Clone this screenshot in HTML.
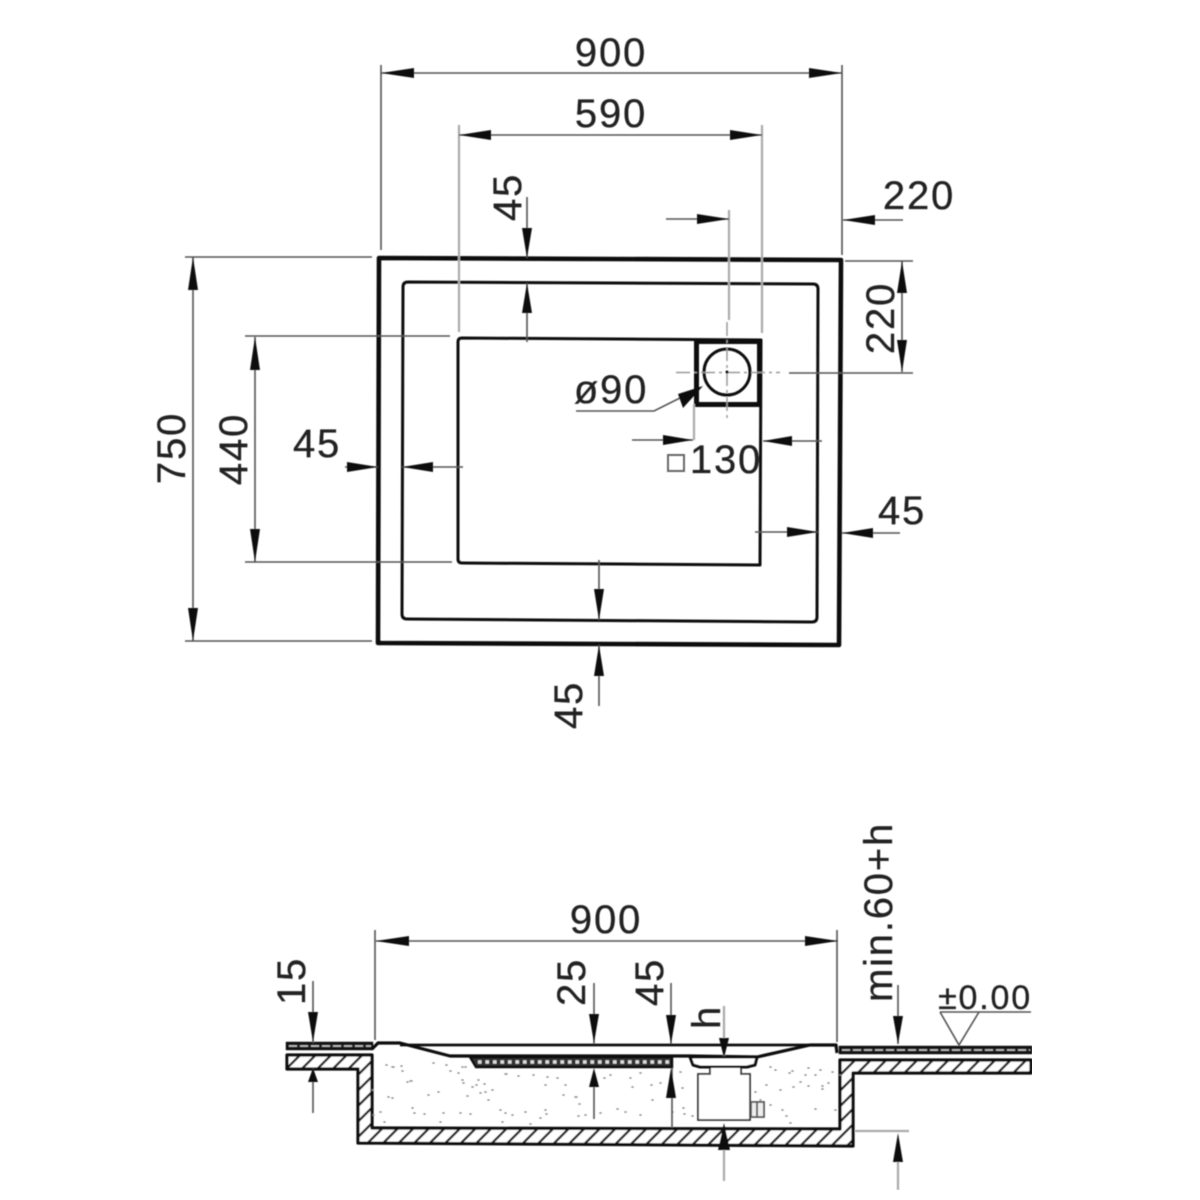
<!DOCTYPE html>
<html><head><meta charset="utf-8"><style>
html,body{margin:0;padding:0;background:#fff;width:1200px;height:1200px;overflow:hidden}
svg{display:block}
text{font-family:"Liberation Sans",sans-serif;font-size:40px;fill:#222;text-anchor:middle;letter-spacing:1.8px;stroke:#222;stroke-width:.3px}
.e{stroke:#555;stroke-width:1.6;fill:none}
.g{stroke:#aaa;stroke-width:2.2;fill:none}
.k{stroke:#111;fill:none}
.a{fill:#111;stroke:none}
</style></head><body>
<svg width="1200" height="1200" viewBox="0 0 1200 1200" xmlns="http://www.w3.org/2000/svg">
<defs>
<pattern id="h" width="11" height="11" patternUnits="userSpaceOnUse" patternTransform="rotate(45)">
<rect width="11" height="11" fill="#fff"/><rect width="2.4" height="11" fill="#222"/>
</pattern>
<filter id="b" x="0" y="0" width="100%" height="100%"><feGaussianBlur stdDeviation="0.6"/></filter>
</defs>
<g filter="url(#b)">
<!-- plan outlines -->
<path class="k" stroke-width="4.6" stroke-linejoin="round" d="M379 258L841 260L839 645L378 643Z"/>
<path class="k" stroke-width="3" stroke-linejoin="round" d="M408 282L813 284Q818 284 818 289L817 617Q817 622 812 622L407 619Q402 619 402 614L403 287Q403 282 408 282Z"/>
<path class="k" stroke-width="3" stroke-linejoin="round" d="M462 338L761 340L760 565L462 563Q458 563 458 559L458 342Q458 338 462 338Z"/>
<rect x="696.500" y="341.500" width="63" height="63" class="k" stroke-width="5"/>
<circle cx="727" cy="372" r="23" class="k" stroke-width="3"/>
<path stroke="#999" stroke-width="1.500" fill="none" stroke-dasharray="14 4 3 4" d="M676 372.500H780M727 322V418"/>
<path class="g" d="M729 210V320"/>
<circle cx="727" cy="372" r="1.500" class="a"/>
<path class="e" d="M789 373H913"/>

<!-- plan dimension lines -->
<path class="e" d="M381 65V250M842 65V255M381 73H842"/>
<path class="a" d="M381 73L414 68V78ZM842 73L809 68V78Z"/>
<path class="g" d="M459 125V332M762 125V333"/><path class="e" d="M459 135H762"/>
<path class="a" d="M459 135L491 130V140ZM762 135L730 130V140Z"/>
<path class="e" d="M527 197V258M527 283V342"/>
<path class="a" d="M527 258L522 228H532ZM527 283L522 313H532Z"/>
<path class="e" d="M666 219H729M843 220H903"/>
<path class="a" d="M729 219L697 214V224ZM843 220L875 215V225Z"/>
<path class="e" d="M845 261H913M902 261V372"/>
<path class="a" d="M902 261L897 293H907ZM902 372L897 340H907Z"/>
<path class="e" d="M185 257H372M185 641H372M193 257V641"/>
<path class="a" d="M193 257L188 290H198ZM193 641L188 608H198Z"/>
<path class="e" d="M245 336H450M245 562H452M255 337V562"/>
<path class="a" d="M255 337L250 370H260ZM255 562L250 529H260Z"/>
<path class="e" d="M345 467H378M402 467H463"/>
<path class="a" d="M378 467L347 462V472ZM402 467L433 462V472Z"/>
<path class="e" d="M842 533H900M755 532H818"/>
<path class="a" d="M842 533L873 528V538ZM818 532L787 527V537Z"/>
<path class="e" d="M599 560V620M599 645V706"/>
<path class="a" d="M599 620L594 589H604ZM599 645L594 676H604Z"/>
<path class="e" d="M576 411H654L700 388"/>
<path class="a" d="M703 386L678 394L683 408Z"/>
<path class="g" d="M694 404V440"/>
<path class="e" d="M632 440H693M763 441H822"/>
<path class="a" d="M693 440L663 435V445ZM763 441L792 436V446Z"/>
<rect x="668" y="455" width="16" height="16" fill="none" stroke="#666" stroke-width="2"/>

<!-- section: slab hatch -->
<path fill="url(#h)" stroke="#111" stroke-width="3.200" stroke-linejoin="round" d="M287 1055H372V1128L840 1129V1060H1031V1073H853V1146L358 1143V1069H287Z"/>
<!-- stipple -->
<path stroke="#888" stroke-width="1.600" stroke-linecap="round" fill="none" d="M386 1065h1M392 1067h2M401 1066h1M402 1071h1M433 1063h1M446 1065h1M450 1071h1M410 1081h2M407 1082h1M462 1067h1M465 1067h1M458 1073h1M463 1083h1M462 1080h1M472 1087h1M476 1085h1M484 1084h1M478 1080h1M488 1100h1M480 1093h1M485 1092h1M492 1090h1M438 1092h1M467 1096h1M428 1095h1M388 1097h1M392 1098h1M373 1115h1M380 1112h1M412 1108h1M414 1113h1M424 1114h1M443 1113h1M460 1113h1M470 1114h1M500 1110h1M505 1113h1M512 1115h1M525 1112h1M545 1110h1M546 1114h1M540 1118h1M565 1085h1M563 1095h1M575 1097h2M579 1104h1M585 1115h1M578 1116h1M600 1113h1M617 1109h1M625 1112h1M640 1115h1M652 1100h1M651 1085h1M630 1078h1M640 1073h1M505 1074h2M518 1076h1M533 1075h1M547 1077h1M557 1078h1M545 1085h1M604 1078h1M610 1075h1M632 1087h1M660 1083h1M682 1088h1M683 1108h1M672 1112h1M684 1114h1M692 1116h1M680 1072h1M775 1070h1M770 1067h1M789 1073h1M792 1071h1M808 1068h1M820 1070h1M805 1075h1M815 1075h1M800 1082h1M808 1086h1M822 1089h1M822 1086h1M793 1087h1M780 1090h1M766 1085h1M755 1092h1M760 1100h1M770 1105h1M782 1110h1M786 1116h1M790 1123h1M815 1109h1M835 1110h1M832 1072h1M828 1083h1M840 1075h1M384 1122h1M372 1090h1M440 1122h1M502 1122h1M530 1124h1"/>

<!-- section: tiles -->
<rect x="287" y="1043" width="85" height="6" fill="#222" stroke="#111" stroke-width="2.400"/>
<rect x="840" y="1047" width="191" height="6" fill="#222" stroke="#111" stroke-width="2.400"/>
<path stroke="#ccc" stroke-width="1.400" stroke-dasharray="8 3" d="M289 1046H371M842 1050H1030"/>

<!-- section: tray -->
<path class="k" stroke-width="2.800" d="M400 1045H837"/>
<path class="k" stroke-width="3.200" stroke-linejoin="round" d="M372 1049L378 1043H400L450 1056H690L757 1057L810 1045H836L837 1053"/>
<path fill="#333" stroke="#111" stroke-width="2.400" d="M470 1057H672V1067H476Z"/>
<path fill="none" stroke="#ddd" stroke-width="3.500" stroke-dasharray="3.500 4" d="M478 1062H670"/>
<path fill="#fff" stroke="#111" stroke-width="3" stroke-linejoin="round" d="M690 1057H757L755 1065L747 1067H700L693 1065Z"/>
<path fill="#fff" stroke="#333" stroke-width="1.800" d="M710 1068V1074H698V1120H750V1074H741V1068"/>
<path fill="#eee" stroke="#555" stroke-width="1.800" d="M751 1102H764V1117H751ZM757 1102V1117"/>
<path class="e" d="M672 1068V1128M594 1087V1119"/>

<!-- section dimensions -->
<path class="e" d="M375 930V1040M837 930V1042M376 941H838"/>
<path class="a" d="M376 941L409 936V946ZM838 941L805 936V946Z"/>
<path class="e" d="M313 981V1043M313 1068V1113"/>
<path class="a" d="M313 1042L308 1012H318ZM313 1068L308 1082H318Z"/>
<path class="e" d="M594 983V1044"/>
<path class="a" d="M594 1043L589 1014H599ZM594 1068L589 1087H599Z"/>
<path class="e" d="M671 983V1044"/>
<path class="a" d="M671 1044L666 1015H676ZM671 1068L666 1098H676Z"/>
<path class="g" d="M724 1006V1056M724 1150V1181"/>
<path class="a" d="M724 1058L719 1038H729ZM724 1123L718 1150H730Z"/>
<path class="e" d="M898 985V1044"/>
<path class="a" d="M898 1044L893 1016H903Z"/>
<path class="e" d="M940 1012H1031M940 1012L959 1045L979 1012"/>
<path class="g" d="M855 1131H909M898 1160V1190"/>
<path class="a" d="M898 1133L893 1162H903Z"/>

<!-- labels -->
<text x="611" y="66">900</text>
<text x="611" y="127">590</text>
<text x="919" y="209">220</text>
<text x="317" y="457">45</text>
<text x="902" y="524">45</text>
<text x="611" y="403">ø90</text>
<text x="726" y="473">130</text>
<text x="606" y="933">900</text>
<text x="985" y="1009" style="font-size:34px">±0.00</text>
<text transform="translate(521,197) rotate(-90)">45</text>
<text transform="translate(894,318) rotate(-90)">220</text>
<text transform="translate(185,448) rotate(-90)">750</text>
<text transform="translate(247,449) rotate(-90)">440</text>
<text transform="translate(582,705) rotate(-90)">45</text>
<text transform="translate(305,981) rotate(-90)">15</text>
<text transform="translate(585,982) rotate(-90)">25</text>
<text transform="translate(663,982) rotate(-90)">45</text>
<text transform="translate(720,1017) rotate(-90)">h</text>
<text transform="translate(892,912) rotate(-90)">min.60+h</text>
</g>
</svg>
</body></html>
